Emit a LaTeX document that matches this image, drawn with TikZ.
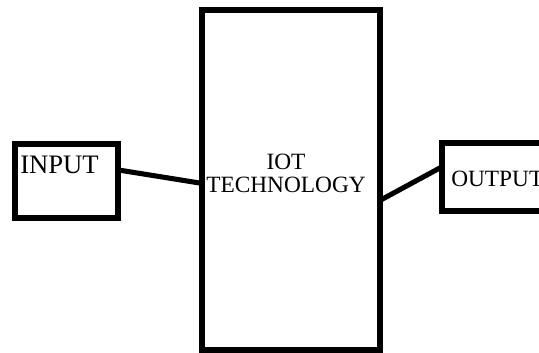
\documentclass[tikz,border=0pt]{standalone}
\usepackage{fontspec}
\setmainfont{Liberation Serif}
\usetikzlibrary{calc}
\tikzset{
  blockbox/.style={draw,line width=4.5pt,inner sep=0pt,outer sep=0pt,anchor=north west},
  wire/.style={line width=3.8pt}
}

\begin{document}
\begin{tikzpicture}[x=0.75pt,y=-0.75pt]
  \useasboundingbox (0,0) rectangle (539,353);
  % blocks
  \node[blockbox,minimum width=103*0.75pt,minimum height=74*0.75pt] (inbox) at (15,144) {};
  \node[blockbox,minimum width=178*0.75pt,minimum height=340*0.75pt] (iotbox) at (202,10) {};
  \node[blockbox,minimum width=130*0.75pt,minimum height=68*0.75pt] (outbox) at (442,143) {};
  % labels
  \node[anchor=base west,inner sep=0pt,font=\fontsize{20}{24}\selectfont] (intext) at (20,173) {INPUT};
  \node[anchor=base,inner sep=0pt,align=center,font=\fontsize{17.5}{17.25}\selectfont] (iottext) at (286,192) {IOT\\TECHNOLOGY};
  \node[anchor=base west,inner sep=0pt,font=\fontsize{17.5}{20}\selectfont] (outtext) at (451,186) {OUTPUT};
  % wires
  \draw[wire] ($(inbox.north east)!0.35!(inbox.south east)$) -- ($(iotbox.north west)!0.51!(iotbox.south west)$);
  \draw[wire] ($(iotbox.north east)!0.56!(iotbox.south east)$) -- ($(outbox.north west)!0.35!(outbox.south west)$);
\end{tikzpicture}
\end{document}
